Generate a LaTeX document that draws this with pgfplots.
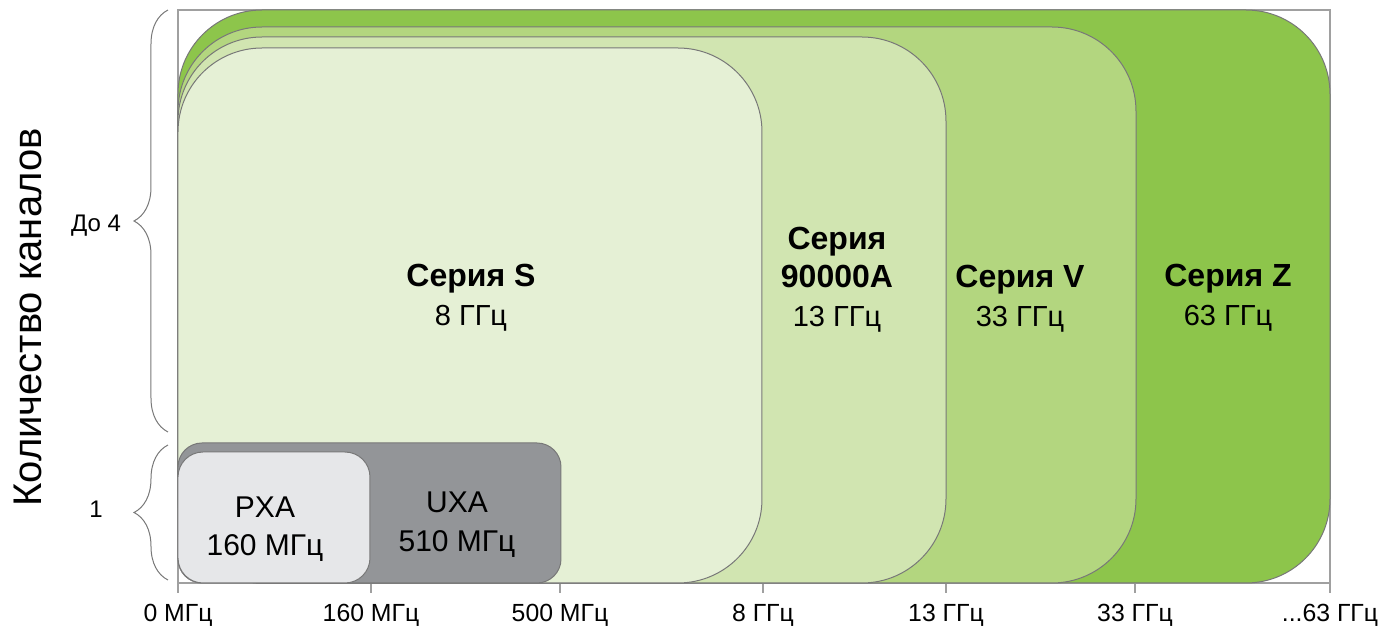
\documentclass[border=0pt]{standalone}
\usepackage{fontspec}
\setmainfont{Liberation Sans}
\usepackage{pgfplots}
\pgfplotsset{compat=1.18}
\usetikzlibrary{decorations.pathreplacing}
\definecolor{cZ}{RGB}{141,197,75}
\definecolor{cV}{RGB}{179,214,127}
\definecolor{cA}{RGB}{209,229,177}
\definecolor{cS}{RGB}{229,240,213}
\definecolor{cU}{RGB}{147,149,152}
\definecolor{cP}{RGB}{230,231,233}
\definecolor{cEdge}{RGB}{120,120,120}
\definecolor{cFrame}{RGB}{160,160,160}
\newcommand{\dotsl}{.\kern0pt.\kern0pt.}
\begin{document}
\begin{tikzpicture}
\begin{axis}[
  scale only axis, width=576pt, height=286.5pt,
  xmin=0, xmax=1152, ymin=0, ymax=573,
  clip=false,
  axis line style={draw=cFrame, line width=0.6pt},
  xtick={0,193,382,585,768,957,1152},
  xticklabels={0 МГц,160 МГц,500 МГц,8 ГГц,13 ГГц,33 ГГц,{\dotsl63 ГГц}},
  ytick=\empty,
  tick align=outside, xtick pos=bottom, major tick length=5pt,
  tick style={draw=cFrame, line width=0.6pt},
  xticklabel style={font=\fontsize{12.4}{14}\selectfont, anchor=base, yshift=-14.5pt},
]
% Series Z
\addplot[draw=cEdge, line width=0.5pt, fill=cZ, rounded corners=42pt]
  coordinates {(576,0) (1152,0) (1152,573) (0,573) (0,0) (575,0)} -- cycle;
% Series V
\addplot[draw=cEdge, line width=0.5pt, fill=cV, rounded corners=42pt]
  coordinates {(479,0) (958,0) (958,556) (0,556) (0,0) (478,0)} -- cycle;
% Series 90000A
\addplot[draw=cEdge, line width=0.5pt, fill=cA, rounded corners=42pt]
  coordinates {(384,0) (768,0) (768,546) (0,546) (0,0) (383,0)} -- cycle;
% Series S
\addplot[draw=cEdge, line width=0.5pt, fill=cS, rounded corners=42pt]
  coordinates {(292,0) (584,0) (584,535) (0,535) (0,0) (291,0)} -- cycle;
% UXA
\addplot[draw=cEdge, line width=0.5pt, fill=cU, rounded corners=12pt]
  coordinates {(191,0) (383,0) (383,140) (0,140) (0,0) (190,0)} -- cycle;
% PXA
\addplot[draw=cEdge, line width=0.5pt, fill=cP, rounded corners=12.5pt]
  coordinates {(96,0) (192,0) (192,131) (0,131) (0,0) (95,0)} -- cycle;

% labels
\node[anchor=base, font=\bfseries\fontsize{16}{19}\selectfont] at (axis cs:293,296) {Серия S};
\node[anchor=base, font=\fontsize{14.5}{17}\selectfont] at (axis cs:293,257) {8 ГГц};
\node[anchor=base, font=\bfseries\fontsize{16}{19}\selectfont] at (axis cs:659,333) {Серия};
\node[anchor=base, font=\bfseries\fontsize{16}{19}\selectfont] at (axis cs:659,295) {90000A};
\node[anchor=base, font=\fontsize{14.5}{17}\selectfont] at (axis cs:659,256) {13 ГГц};
\node[anchor=base, font=\bfseries\fontsize{16}{19}\selectfont] at (axis cs:842,295) {Серия V};
\node[anchor=base, font=\fontsize{14.5}{17}\selectfont] at (axis cs:842,256) {33 ГГц};
\node[anchor=base, font=\bfseries\fontsize{16}{19}\selectfont] at (axis cs:1050,296) {Серия Z};
\node[anchor=base, font=\fontsize{14.5}{17}\selectfont] at (axis cs:1050,257) {63 ГГц};
\node[anchor=base, font=\fontsize{15}{18}\selectfont] at (axis cs:87,65) {PXA};
\node[anchor=base, font=\fontsize{15}{18}\selectfont] at (axis cs:87,27) {160 МГц};
\node[anchor=base, font=\fontsize{15}{18}\selectfont] at (axis cs:279,70) {UXA};
\node[anchor=base, font=\fontsize{15}{18}\selectfont] at (axis cs:279,31) {510 МГц};

% braces and channel labels
\draw[decorate, decoration={brace, amplitude=17pt}, draw=cEdge, line width=0.5pt]
  (axis cs:-10,151) -- (axis cs:-10,573);
\draw[decorate, decoration={brace, amplitude=17pt}, draw=cEdge, line width=0.5pt]
  (axis cs:-10,3) -- (axis cs:-10,138);
\node[anchor=base, font=\fontsize{12}{14}\selectfont] at (axis cs:-82,351) {До 4};
\node[anchor=base, font=\fontsize{12}{14}\selectfont] at (axis cs:-82,65) {1};
\node[rotate=90, anchor=base, font=\fontsize{20}{24}\selectfont] at (axis cs:-136,265.5) {Количество каналов};

\coordinate (SW) at (rel axis cs:0,0);
\coordinate (NE) at (rel axis cs:1,1);
\end{axis}
\pgfresetboundingbox
\useasboundingbox ([xshift=-89pt,yshift=-22pt]SW) rectangle ([xshift=29.5pt,yshift=5pt]NE);
\end{tikzpicture}
\end{document}
